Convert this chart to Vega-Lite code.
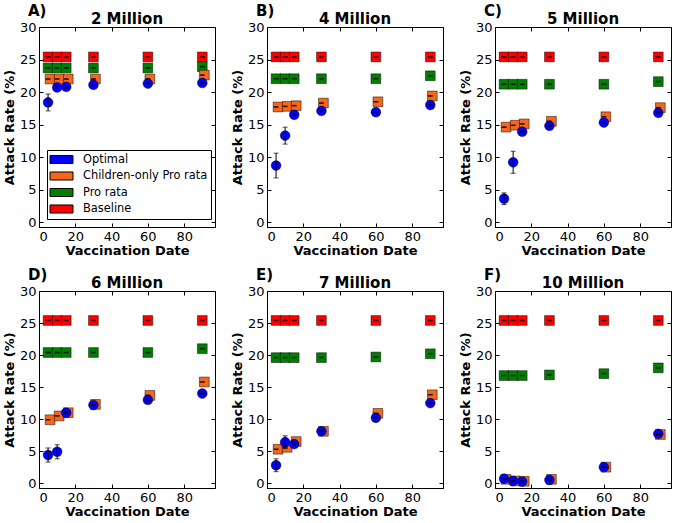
{
  "$schema": "https://vega.github.io/schema/vega-lite/v6.json",
  "padding": {"left": 2, "top": 3, "right": 2, "bottom": 2},
  "config": {
    "font": "DejaVu Sans",
    "view": {"stroke": "black", "strokeWidth": 1},
    "axis": {"grid": false, "domainColor": "black", "domainWidth": 1, "tickColor": "black", "labelColor": "black", "labelFontSize": 13, "labelFont": "DejaVu Sans", "titleFont": "DejaVu Sans", "titleFontSize": 13, "titleFontWeight": "bold", "titleColor": "black"},
    "title": {"font": "DejaVu Sans", "fontSize": 15, "fontWeight": "bold", "color": "black"}
  },
  "data": {"values": [
    {"p":"A","s":"Baseline","x":5,"y":25.4,"e":0.05},{"p":"A","s":"Baseline","x":10,"y":25.4,"e":0.05},{"p":"A","s":"Baseline","x":15,"y":25.4,"e":0.05},{"p":"A","s":"Baseline","x":30,"y":25.4,"e":0.05},{"p":"A","s":"Baseline","x":60,"y":25.4,"e":0.05},{"p":"A","s":"Baseline","x":90,"y":25.4,"e":0.05},
    {"p":"A","s":"Pro rata","x":5,"y":23.7,"e":0.05},{"p":"A","s":"Pro rata","x":10,"y":23.7,"e":0.05},{"p":"A","s":"Pro rata","x":15,"y":23.7,"e":0.05},{"p":"A","s":"Pro rata","x":30,"y":23.7,"e":0.05},{"p":"A","s":"Pro rata","x":60,"y":23.7,"e":0.05},{"p":"A","s":"Pro rata","x":90,"y":23.9,"e":0.05},
    {"p":"A","s":"Children-only Pro rata","x":5,"y":22.0,"e":0.05},{"p":"A","s":"Children-only Pro rata","x":10,"y":22.0,"e":0.05},{"p":"A","s":"Children-only Pro rata","x":15,"y":22.0,"e":0.05},{"p":"A","s":"Children-only Pro rata","x":30,"y":22.0,"e":0.05},{"p":"A","s":"Children-only Pro rata","x":60,"y":22.0,"e":0.05},{"p":"A","s":"Children-only Pro rata","x":90,"y":22.6,"e":0.05},
    {"p":"A","s":"Optimal","x":5,"y":18.4,"e":1.3},{"p":"A","s":"Optimal","x":10,"y":20.7,"e":0.3},{"p":"A","s":"Optimal","x":15,"y":20.8,"e":0.2},{"p":"A","s":"Optimal","x":30,"y":21.1,"e":0.1},{"p":"A","s":"Optimal","x":60,"y":21.3,"e":0.1},{"p":"A","s":"Optimal","x":90,"y":21.4,"e":0.1},
    {"p":"B","s":"Baseline","x":5,"y":25.4,"e":0.05},{"p":"B","s":"Baseline","x":10,"y":25.4,"e":0.05},{"p":"B","s":"Baseline","x":15,"y":25.4,"e":0.05},{"p":"B","s":"Baseline","x":30,"y":25.4,"e":0.05},{"p":"B","s":"Baseline","x":60,"y":25.4,"e":0.05},{"p":"B","s":"Baseline","x":90,"y":25.4,"e":0.05},
    {"p":"B","s":"Pro rata","x":5,"y":22.05,"e":0.05},{"p":"B","s":"Pro rata","x":10,"y":22.05,"e":0.05},{"p":"B","s":"Pro rata","x":15,"y":22.05,"e":0.05},{"p":"B","s":"Pro rata","x":30,"y":22.05,"e":0.05},{"p":"B","s":"Pro rata","x":60,"y":22.05,"e":0.05},{"p":"B","s":"Pro rata","x":90,"y":22.5,"e":0.05},
    {"p":"B","s":"Children-only Pro rata","x":5,"y":17.7,"e":0.05},{"p":"B","s":"Children-only Pro rata","x":10,"y":17.8,"e":0.05},{"p":"B","s":"Children-only Pro rata","x":15,"y":17.9,"e":0.05},{"p":"B","s":"Children-only Pro rata","x":30,"y":18.3,"e":0.05},{"p":"B","s":"Children-only Pro rata","x":60,"y":18.5,"e":0.05},{"p":"B","s":"Children-only Pro rata","x":90,"y":19.4,"e":0.05},
    {"p":"B","s":"Optimal","x":5,"y":8.7,"e":1.9},{"p":"B","s":"Optimal","x":10,"y":13.3,"e":1.3},{"p":"B","s":"Optimal","x":15,"y":16.5,"e":0.1},{"p":"B","s":"Optimal","x":30,"y":17.1,"e":0.1},{"p":"B","s":"Optimal","x":60,"y":16.9,"e":0.1},{"p":"B","s":"Optimal","x":90,"y":18.0,"e":0.1},
    {"p":"C","s":"Baseline","x":5,"y":25.4,"e":0.05},{"p":"C","s":"Baseline","x":10,"y":25.4,"e":0.05},{"p":"C","s":"Baseline","x":15,"y":25.4,"e":0.05},{"p":"C","s":"Baseline","x":30,"y":25.4,"e":0.05},{"p":"C","s":"Baseline","x":60,"y":25.4,"e":0.05},{"p":"C","s":"Baseline","x":90,"y":25.4,"e":0.05},
    {"p":"C","s":"Pro rata","x":5,"y":21.2,"e":0.05},{"p":"C","s":"Pro rata","x":10,"y":21.2,"e":0.05},{"p":"C","s":"Pro rata","x":15,"y":21.2,"e":0.05},{"p":"C","s":"Pro rata","x":30,"y":21.2,"e":0.05},{"p":"C","s":"Pro rata","x":60,"y":21.2,"e":0.05},{"p":"C","s":"Pro rata","x":90,"y":21.6,"e":0.05},
    {"p":"C","s":"Children-only Pro rata","x":5,"y":14.6,"e":0.05},{"p":"C","s":"Children-only Pro rata","x":10,"y":14.9,"e":0.05},{"p":"C","s":"Children-only Pro rata","x":15,"y":15.1,"e":0.05},{"p":"C","s":"Children-only Pro rata","x":30,"y":15.5,"e":0.05},{"p":"C","s":"Children-only Pro rata","x":60,"y":16.2,"e":0.05},{"p":"C","s":"Children-only Pro rata","x":90,"y":17.6,"e":0.05},
    {"p":"C","s":"Optimal","x":5,"y":3.6,"e":0.9},{"p":"C","s":"Optimal","x":10,"y":9.2,"e":1.7},{"p":"C","s":"Optimal","x":15,"y":13.9,"e":0.1},{"p":"C","s":"Optimal","x":30,"y":14.8,"e":0.1},{"p":"C","s":"Optimal","x":60,"y":15.3,"e":0.1},{"p":"C","s":"Optimal","x":90,"y":16.8,"e":0.1},
    {"p":"D","s":"Baseline","x":5,"y":25.4,"e":0.05},{"p":"D","s":"Baseline","x":10,"y":25.4,"e":0.05},{"p":"D","s":"Baseline","x":15,"y":25.4,"e":0.05},{"p":"D","s":"Baseline","x":30,"y":25.4,"e":0.05},{"p":"D","s":"Baseline","x":60,"y":25.4,"e":0.05},{"p":"D","s":"Baseline","x":90,"y":25.4,"e":0.05},
    {"p":"D","s":"Pro rata","x":5,"y":20.4,"e":0.05},{"p":"D","s":"Pro rata","x":10,"y":20.4,"e":0.05},{"p":"D","s":"Pro rata","x":15,"y":20.4,"e":0.05},{"p":"D","s":"Pro rata","x":30,"y":20.4,"e":0.05},{"p":"D","s":"Pro rata","x":60,"y":20.4,"e":0.05},{"p":"D","s":"Pro rata","x":90,"y":21.0,"e":0.05},
    {"p":"D","s":"Children-only Pro rata","x":5,"y":9.9,"e":0.05},{"p":"D","s":"Children-only Pro rata","x":10,"y":10.5,"e":0.05},{"p":"D","s":"Children-only Pro rata","x":15,"y":11.0,"e":0.05},{"p":"D","s":"Children-only Pro rata","x":30,"y":12.3,"e":0.05},{"p":"D","s":"Children-only Pro rata","x":60,"y":13.7,"e":0.05},{"p":"D","s":"Children-only Pro rata","x":90,"y":15.8,"e":0.05},
    {"p":"D","s":"Optimal","x":5,"y":4.4,"e":1.1},{"p":"D","s":"Optimal","x":10,"y":4.9,"e":1.1},{"p":"D","s":"Optimal","x":15,"y":11.0,"e":0.1},{"p":"D","s":"Optimal","x":30,"y":12.2,"e":0.1},{"p":"D","s":"Optimal","x":60,"y":13.0,"e":0.1},{"p":"D","s":"Optimal","x":90,"y":14.0,"e":0.1},
    {"p":"E","s":"Baseline","x":5,"y":25.4,"e":0.05},{"p":"E","s":"Baseline","x":10,"y":25.4,"e":0.05},{"p":"E","s":"Baseline","x":15,"y":25.4,"e":0.05},{"p":"E","s":"Baseline","x":30,"y":25.4,"e":0.05},{"p":"E","s":"Baseline","x":60,"y":25.4,"e":0.05},{"p":"E","s":"Baseline","x":90,"y":25.4,"e":0.05},
    {"p":"E","s":"Pro rata","x":5,"y":19.6,"e":0.05},{"p":"E","s":"Pro rata","x":10,"y":19.6,"e":0.05},{"p":"E","s":"Pro rata","x":15,"y":19.6,"e":0.05},{"p":"E","s":"Pro rata","x":30,"y":19.6,"e":0.05},{"p":"E","s":"Pro rata","x":60,"y":19.7,"e":0.05},{"p":"E","s":"Pro rata","x":90,"y":20.2,"e":0.05},
    {"p":"E","s":"Children-only Pro rata","x":5,"y":5.3,"e":0.05},{"p":"E","s":"Children-only Pro rata","x":10,"y":5.6,"e":0.05},{"p":"E","s":"Children-only Pro rata","x":15,"y":6.5,"e":0.05},{"p":"E","s":"Children-only Pro rata","x":30,"y":8.1,"e":0.05},{"p":"E","s":"Children-only Pro rata","x":60,"y":10.9,"e":0.05},{"p":"E","s":"Children-only Pro rata","x":90,"y":13.8,"e":0.05},
    {"p":"E","s":"Optimal","x":5,"y":2.8,"e":1.0},{"p":"E","s":"Optimal","x":10,"y":6.4,"e":1.0},{"p":"E","s":"Optimal","x":15,"y":6.1,"e":0.1},{"p":"E","s":"Optimal","x":30,"y":8.1,"e":0.1},{"p":"E","s":"Optimal","x":60,"y":10.2,"e":0.1},{"p":"E","s":"Optimal","x":90,"y":12.5,"e":0.1},
    {"p":"F","s":"Baseline","x":5,"y":25.4,"e":0.05},{"p":"F","s":"Baseline","x":10,"y":25.4,"e":0.05},{"p":"F","s":"Baseline","x":15,"y":25.4,"e":0.05},{"p":"F","s":"Baseline","x":30,"y":25.4,"e":0.05},{"p":"F","s":"Baseline","x":60,"y":25.4,"e":0.05},{"p":"F","s":"Baseline","x":90,"y":25.4,"e":0.05},
    {"p":"F","s":"Pro rata","x":5,"y":16.8,"e":0.05},{"p":"F","s":"Pro rata","x":10,"y":16.8,"e":0.05},{"p":"F","s":"Pro rata","x":15,"y":16.8,"e":0.05},{"p":"F","s":"Pro rata","x":30,"y":16.9,"e":0.05},{"p":"F","s":"Pro rata","x":60,"y":17.1,"e":0.05},{"p":"F","s":"Pro rata","x":90,"y":18.0,"e":0.05},
    {"p":"F","s":"Children-only Pro rata","x":5,"y":0.6,"e":0.05},{"p":"F","s":"Children-only Pro rata","x":10,"y":0.35,"e":0.05},{"p":"F","s":"Children-only Pro rata","x":15,"y":0.3,"e":0.05},{"p":"F","s":"Children-only Pro rata","x":30,"y":0.6,"e":0.05},{"p":"F","s":"Children-only Pro rata","x":60,"y":2.5,"e":0.05},{"p":"F","s":"Children-only Pro rata","x":90,"y":7.6,"e":0.05},
    {"p":"F","s":"Optimal","x":5,"y":0.7,"e":0.1},{"p":"F","s":"Optimal","x":10,"y":0.35,"e":0.05},{"p":"F","s":"Optimal","x":15,"y":0.25,"e":0.05},{"p":"F","s":"Optimal","x":30,"y":0.5,"e":0.1},{"p":"F","s":"Optimal","x":60,"y":2.5,"e":0.1},{"p":"F","s":"Optimal","x":90,"y":7.7,"e":0.1}
  ]},
  "columns": 3,
  "spacing": {"row": 9, "column": 14},
  "resolve": {"scale": {"color": "independent"}, "legend": {"color": "independent"}},
  "concat": [
    {
      "title": {"text": "A)", "anchor": "start", "frame": "group", "dx": -11, "offset": -7},
      "resolve": {"scale": {"color": "independent"}, "legend": {"color": "independent"}},
      "vconcat": [{
        "title": {"text": "2 Million", "offset": -6, "frame": "group"},
        "width": 176, "height": 200,
        "transform": [{"filter": {"field": "p", "equal": "A"}}],
        "resolve": {"axis": {"x": "independent", "y": "independent"}},
        "layer": [
          {"transform": [{"filter": {"field": "s", "oneOf": ["Pro rata", "Baseline"]}}],
           "mark": {"type": "square", "size": 95, "filled": true, "opacity": 1, "stroke": "black", "strokeWidth": 0.8, "strokeOpacity": 0.6},
           "encoding": {
             "x": {"field": "x", "type": "quantitative", "scale": {"domain": [0, 97], "nice": false, "zero": false}, "axis": {"orient": "bottom", "title": "Vaccination Date", "values": [0, 20, 40, 60, 80], "tickSize": -4, "labelPadding": 7, "titlePadding": 1}},
             "y": {"field": "y", "type": "quantitative", "scale": {"domain": [-0.75, 30], "nice": false, "zero": false}, "axis": {"orient": "left", "title": "Attack Rate (%)", "values": [0, 5, 10, 15, 20, 25, 30], "tickSize": -4, "labelPadding": 7, "titlePadding": 3}},
             "color": {"field": "s", "type": "nominal", "scale": {"domain": ["Optimal", "Children-only Pro rata", "Pro rata", "Baseline"], "range": ["#0000ff", "#f7661c", "#008000", "#ff0000"]},
               "legend": {"orient": "bottom-left", "offset": 8, "title": null, "symbolType": "M-2,-0.7H2V0.7H-2Z", "symbolSize": 132, "symbolStrokeColor": "black", "symbolStrokeWidth": 1, "symbolOpacity": 1, "labelFontSize": 11.4, "labelFont": "DejaVu Sans", "labelColor": "black", "strokeColor": "black", "fillColor": "white", "padding": 3, "rowPadding": 3.5, "labelOffset": 15, "symbolOffset": 5, "cornerRadius": 0}}
           }},
          {"transform": [{"filter": {"field": "s", "equal": "Children-only Pro rata"}}],
           "mark": {"type": "square", "size": 95, "filled": true, "opacity": 1, "stroke": "black", "strokeWidth": 0.8, "strokeOpacity": 0.6, "xOffset": 2},
           "encoding": {
             "x": {"field": "x", "type": "quantitative", "axis": null},
             "y": {"field": "y", "type": "quantitative", "axis": null},
             "color": {"field": "s", "type": "nominal"}
           }},
          {"transform": [{"filter": {"field": "s", "equal": "Optimal"}}],
           "mark": {"type": "circle", "size": 95, "opacity": 1, "stroke": "black", "strokeWidth": 0.8, "strokeOpacity": 0.6},
           "encoding": {
             "x": {"field": "x", "type": "quantitative", "axis": {"orient": "top", "labels": false, "title": null, "domain": false, "values": [0, 20, 40, 60, 80], "tickSize": -4}},
             "y": {"field": "y", "type": "quantitative", "axis": {"orient": "right", "labels": false, "title": null, "domain": false, "values": [0, 5, 10, 15, 20, 25, 30], "tickSize": -4}},
             "color": {"field": "s", "type": "nominal"}
           }},
          {"mark": {"type": "errorbar", "ticks": {"size": 5, "color": "black"}, "rule": {"color": "black", "strokeWidth": 1}},
           "encoding": {
             "x": {"field": "x", "type": "quantitative", "axis": null},
             "y": {"field": "y", "type": "quantitative", "axis": null},
             "yError": {"field": "e"}
           }}
        ]
      }]
    },
    {
      "title": {"text": "B)", "anchor": "start", "frame": "group", "dx": -11, "offset": -7},
      "resolve": {"scale": {"color": "independent"}, "legend": {"color": "independent"}},
      "vconcat": [{
        "title": {"text": "4 Million", "offset": -6, "frame": "group"},
        "width": 176, "height": 200,
        "transform": [{"filter": {"field": "p", "equal": "B"}}],
        "resolve": {"axis": {"x": "independent", "y": "independent"}},
        "layer": [
          {"transform": [{"filter": {"field": "s", "oneOf": ["Pro rata", "Baseline"]}}],
           "mark": {"type": "square", "size": 95, "filled": true, "opacity": 1, "stroke": "black", "strokeWidth": 0.8, "strokeOpacity": 0.6},
           "encoding": {
             "x": {"field": "x", "type": "quantitative", "scale": {"domain": [0, 97], "nice": false, "zero": false}, "axis": {"orient": "bottom", "title": "Vaccination Date", "values": [0, 20, 40, 60, 80], "tickSize": -4, "labelPadding": 7, "titlePadding": 1}},
             "y": {"field": "y", "type": "quantitative", "scale": {"domain": [-0.75, 30], "nice": false, "zero": false}, "axis": {"orient": "left", "title": "Attack Rate (%)", "values": [0, 5, 10, 15, 20, 25, 30], "tickSize": -4, "labelPadding": 7, "titlePadding": 3}},
             "color": {"field": "s", "type": "nominal", "scale": {"domain": ["Optimal", "Children-only Pro rata", "Pro rata", "Baseline"], "range": ["#0000ff", "#f7661c", "#008000", "#ff0000"]}, "legend": null}
           }},
          {"transform": [{"filter": {"field": "s", "equal": "Children-only Pro rata"}}],
           "mark": {"type": "square", "size": 95, "filled": true, "opacity": 1, "stroke": "black", "strokeWidth": 0.8, "strokeOpacity": 0.6, "xOffset": 2},
           "encoding": {
             "x": {"field": "x", "type": "quantitative", "axis": null},
             "y": {"field": "y", "type": "quantitative", "axis": null},
             "color": {"field": "s", "type": "nominal", "legend": null}
           }},
          {"transform": [{"filter": {"field": "s", "equal": "Optimal"}}],
           "mark": {"type": "circle", "size": 95, "opacity": 1, "stroke": "black", "strokeWidth": 0.8, "strokeOpacity": 0.6},
           "encoding": {
             "x": {"field": "x", "type": "quantitative", "axis": {"orient": "top", "labels": false, "title": null, "domain": false, "values": [0, 20, 40, 60, 80], "tickSize": -4}},
             "y": {"field": "y", "type": "quantitative", "axis": {"orient": "right", "labels": false, "title": null, "domain": false, "values": [0, 5, 10, 15, 20, 25, 30], "tickSize": -4}},
             "color": {"field": "s", "type": "nominal", "legend": null}
           }},
          {"mark": {"type": "errorbar", "ticks": {"size": 5, "color": "black"}, "rule": {"color": "black", "strokeWidth": 1}},
           "encoding": {
             "x": {"field": "x", "type": "quantitative", "axis": null},
             "y": {"field": "y", "type": "quantitative", "axis": null},
             "yError": {"field": "e"}
           }}
        ]
      }]
    },
    {
      "title": {"text": "C)", "anchor": "start", "frame": "group", "dx": -11, "offset": -7},
      "resolve": {"scale": {"color": "independent"}, "legend": {"color": "independent"}},
      "vconcat": [{
        "title": {"text": "5 Million", "offset": -6, "frame": "group"},
        "width": 176, "height": 200,
        "transform": [{"filter": {"field": "p", "equal": "C"}}],
        "resolve": {"axis": {"x": "independent", "y": "independent"}},
        "layer": [
          {"transform": [{"filter": {"field": "s", "oneOf": ["Pro rata", "Baseline"]}}],
           "mark": {"type": "square", "size": 95, "filled": true, "opacity": 1, "stroke": "black", "strokeWidth": 0.8, "strokeOpacity": 0.6},
           "encoding": {
             "x": {"field": "x", "type": "quantitative", "scale": {"domain": [0, 97], "nice": false, "zero": false}, "axis": {"orient": "bottom", "title": "Vaccination Date", "values": [0, 20, 40, 60, 80], "tickSize": -4, "labelPadding": 7, "titlePadding": 1}},
             "y": {"field": "y", "type": "quantitative", "scale": {"domain": [-0.75, 30], "nice": false, "zero": false}, "axis": {"orient": "left", "title": "Attack Rate (%)", "values": [0, 5, 10, 15, 20, 25, 30], "tickSize": -4, "labelPadding": 7, "titlePadding": 3}},
             "color": {"field": "s", "type": "nominal", "scale": {"domain": ["Optimal", "Children-only Pro rata", "Pro rata", "Baseline"], "range": ["#0000ff", "#f7661c", "#008000", "#ff0000"]}, "legend": null}
           }},
          {"transform": [{"filter": {"field": "s", "equal": "Children-only Pro rata"}}],
           "mark": {"type": "square", "size": 95, "filled": true, "opacity": 1, "stroke": "black", "strokeWidth": 0.8, "strokeOpacity": 0.6, "xOffset": 2},
           "encoding": {
             "x": {"field": "x", "type": "quantitative", "axis": null},
             "y": {"field": "y", "type": "quantitative", "axis": null},
             "color": {"field": "s", "type": "nominal", "legend": null}
           }},
          {"transform": [{"filter": {"field": "s", "equal": "Optimal"}}],
           "mark": {"type": "circle", "size": 95, "opacity": 1, "stroke": "black", "strokeWidth": 0.8, "strokeOpacity": 0.6},
           "encoding": {
             "x": {"field": "x", "type": "quantitative", "axis": {"orient": "top", "labels": false, "title": null, "domain": false, "values": [0, 20, 40, 60, 80], "tickSize": -4}},
             "y": {"field": "y", "type": "quantitative", "axis": {"orient": "right", "labels": false, "title": null, "domain": false, "values": [0, 5, 10, 15, 20, 25, 30], "tickSize": -4}},
             "color": {"field": "s", "type": "nominal", "legend": null}
           }},
          {"mark": {"type": "errorbar", "ticks": {"size": 5, "color": "black"}, "rule": {"color": "black", "strokeWidth": 1}},
           "encoding": {
             "x": {"field": "x", "type": "quantitative", "axis": null},
             "y": {"field": "y", "type": "quantitative", "axis": null},
             "yError": {"field": "e"}
           }}
        ]
      }]
    },
    {
      "title": {"text": "D)", "anchor": "start", "frame": "group", "dx": -11, "offset": -7},
      "resolve": {"scale": {"color": "independent"}, "legend": {"color": "independent"}},
      "vconcat": [{
        "title": {"text": "6 Million", "offset": -6, "frame": "group"},
        "width": 176, "height": 197,
        "transform": [{"filter": {"field": "p", "equal": "D"}}],
        "resolve": {"axis": {"x": "independent", "y": "independent"}},
        "layer": [
          {"transform": [{"filter": {"field": "s", "oneOf": ["Pro rata", "Baseline"]}}],
           "mark": {"type": "square", "size": 95, "filled": true, "opacity": 1, "stroke": "black", "strokeWidth": 0.8, "strokeOpacity": 0.6},
           "encoding": {
             "x": {"field": "x", "type": "quantitative", "scale": {"domain": [0, 97], "nice": false, "zero": false}, "axis": {"orient": "bottom", "title": "Vaccination Date", "values": [0, 20, 40, 60, 80], "tickSize": -4, "labelPadding": 7, "titlePadding": 1}},
             "y": {"field": "y", "type": "quantitative", "scale": {"domain": [-0.75, 30], "nice": false, "zero": false}, "axis": {"orient": "left", "title": "Attack Rate (%)", "values": [0, 5, 10, 15, 20, 25, 30], "tickSize": -4, "labelPadding": 7, "titlePadding": 3}},
             "color": {"field": "s", "type": "nominal", "scale": {"domain": ["Optimal", "Children-only Pro rata", "Pro rata", "Baseline"], "range": ["#0000ff", "#f7661c", "#008000", "#ff0000"]}, "legend": null}
           }},
          {"transform": [{"filter": {"field": "s", "equal": "Children-only Pro rata"}}],
           "mark": {"type": "square", "size": 95, "filled": true, "opacity": 1, "stroke": "black", "strokeWidth": 0.8, "strokeOpacity": 0.6, "xOffset": 2},
           "encoding": {
             "x": {"field": "x", "type": "quantitative", "axis": null},
             "y": {"field": "y", "type": "quantitative", "axis": null},
             "color": {"field": "s", "type": "nominal", "legend": null}
           }},
          {"transform": [{"filter": {"field": "s", "equal": "Optimal"}}],
           "mark": {"type": "circle", "size": 95, "opacity": 1, "stroke": "black", "strokeWidth": 0.8, "strokeOpacity": 0.6},
           "encoding": {
             "x": {"field": "x", "type": "quantitative", "axis": {"orient": "top", "labels": false, "title": null, "domain": false, "values": [0, 20, 40, 60, 80], "tickSize": -4}},
             "y": {"field": "y", "type": "quantitative", "axis": {"orient": "right", "labels": false, "title": null, "domain": false, "values": [0, 5, 10, 15, 20, 25, 30], "tickSize": -4}},
             "color": {"field": "s", "type": "nominal", "legend": null}
           }},
          {"mark": {"type": "errorbar", "ticks": {"size": 5, "color": "black"}, "rule": {"color": "black", "strokeWidth": 1}},
           "encoding": {
             "x": {"field": "x", "type": "quantitative", "axis": null},
             "y": {"field": "y", "type": "quantitative", "axis": null},
             "yError": {"field": "e"}
           }}
        ]
      }]
    },
    {
      "title": {"text": "E)", "anchor": "start", "frame": "group", "dx": -11, "offset": -7},
      "resolve": {"scale": {"color": "independent"}, "legend": {"color": "independent"}},
      "vconcat": [{
        "title": {"text": "7 Million", "offset": -6, "frame": "group"},
        "width": 176, "height": 197,
        "transform": [{"filter": {"field": "p", "equal": "E"}}],
        "resolve": {"axis": {"x": "independent", "y": "independent"}},
        "layer": [
          {"transform": [{"filter": {"field": "s", "oneOf": ["Pro rata", "Baseline"]}}],
           "mark": {"type": "square", "size": 95, "filled": true, "opacity": 1, "stroke": "black", "strokeWidth": 0.8, "strokeOpacity": 0.6},
           "encoding": {
             "x": {"field": "x", "type": "quantitative", "scale": {"domain": [0, 97], "nice": false, "zero": false}, "axis": {"orient": "bottom", "title": "Vaccination Date", "values": [0, 20, 40, 60, 80], "tickSize": -4, "labelPadding": 7, "titlePadding": 1}},
             "y": {"field": "y", "type": "quantitative", "scale": {"domain": [-0.75, 30], "nice": false, "zero": false}, "axis": {"orient": "left", "title": "Attack Rate (%)", "values": [0, 5, 10, 15, 20, 25, 30], "tickSize": -4, "labelPadding": 7, "titlePadding": 3}},
             "color": {"field": "s", "type": "nominal", "scale": {"domain": ["Optimal", "Children-only Pro rata", "Pro rata", "Baseline"], "range": ["#0000ff", "#f7661c", "#008000", "#ff0000"]}, "legend": null}
           }},
          {"transform": [{"filter": {"field": "s", "equal": "Children-only Pro rata"}}],
           "mark": {"type": "square", "size": 95, "filled": true, "opacity": 1, "stroke": "black", "strokeWidth": 0.8, "strokeOpacity": 0.6, "xOffset": 2},
           "encoding": {
             "x": {"field": "x", "type": "quantitative", "axis": null},
             "y": {"field": "y", "type": "quantitative", "axis": null},
             "color": {"field": "s", "type": "nominal", "legend": null}
           }},
          {"transform": [{"filter": {"field": "s", "equal": "Optimal"}}],
           "mark": {"type": "circle", "size": 95, "opacity": 1, "stroke": "black", "strokeWidth": 0.8, "strokeOpacity": 0.6},
           "encoding": {
             "x": {"field": "x", "type": "quantitative", "axis": {"orient": "top", "labels": false, "title": null, "domain": false, "values": [0, 20, 40, 60, 80], "tickSize": -4}},
             "y": {"field": "y", "type": "quantitative", "axis": {"orient": "right", "labels": false, "title": null, "domain": false, "values": [0, 5, 10, 15, 20, 25, 30], "tickSize": -4}},
             "color": {"field": "s", "type": "nominal", "legend": null}
           }},
          {"mark": {"type": "errorbar", "ticks": {"size": 5, "color": "black"}, "rule": {"color": "black", "strokeWidth": 1}},
           "encoding": {
             "x": {"field": "x", "type": "quantitative", "axis": null},
             "y": {"field": "y", "type": "quantitative", "axis": null},
             "yError": {"field": "e"}
           }}
        ]
      }]
    },
    {
      "title": {"text": "F)", "anchor": "start", "frame": "group", "dx": -11, "offset": -7},
      "resolve": {"scale": {"color": "independent"}, "legend": {"color": "independent"}},
      "vconcat": [{
        "title": {"text": "10 Million", "offset": -6, "frame": "group"},
        "width": 176, "height": 197,
        "transform": [{"filter": {"field": "p", "equal": "F"}}],
        "resolve": {"axis": {"x": "independent", "y": "independent"}},
        "layer": [
          {"transform": [{"filter": {"field": "s", "oneOf": ["Pro rata", "Baseline"]}}],
           "mark": {"type": "square", "size": 95, "filled": true, "opacity": 1, "stroke": "black", "strokeWidth": 0.8, "strokeOpacity": 0.6},
           "encoding": {
             "x": {"field": "x", "type": "quantitative", "scale": {"domain": [0, 97], "nice": false, "zero": false}, "axis": {"orient": "bottom", "title": "Vaccination Date", "values": [0, 20, 40, 60, 80], "tickSize": -4, "labelPadding": 7, "titlePadding": 1}},
             "y": {"field": "y", "type": "quantitative", "scale": {"domain": [-0.75, 30], "nice": false, "zero": false}, "axis": {"orient": "left", "title": "Attack Rate (%)", "values": [0, 5, 10, 15, 20, 25, 30], "tickSize": -4, "labelPadding": 7, "titlePadding": 3}},
             "color": {"field": "s", "type": "nominal", "scale": {"domain": ["Optimal", "Children-only Pro rata", "Pro rata", "Baseline"], "range": ["#0000ff", "#f7661c", "#008000", "#ff0000"]}, "legend": null}
           }},
          {"transform": [{"filter": {"field": "s", "equal": "Children-only Pro rata"}}],
           "mark": {"type": "square", "size": 95, "filled": true, "opacity": 1, "stroke": "black", "strokeWidth": 0.8, "strokeOpacity": 0.6, "xOffset": 2},
           "encoding": {
             "x": {"field": "x", "type": "quantitative", "axis": null},
             "y": {"field": "y", "type": "quantitative", "axis": null},
             "color": {"field": "s", "type": "nominal", "legend": null}
           }},
          {"transform": [{"filter": {"field": "s", "equal": "Optimal"}}],
           "mark": {"type": "circle", "size": 95, "opacity": 1, "stroke": "black", "strokeWidth": 0.8, "strokeOpacity": 0.6},
           "encoding": {
             "x": {"field": "x", "type": "quantitative", "axis": {"orient": "top", "labels": false, "title": null, "domain": false, "values": [0, 20, 40, 60, 80], "tickSize": -4}},
             "y": {"field": "y", "type": "quantitative", "axis": {"orient": "right", "labels": false, "title": null, "domain": false, "values": [0, 5, 10, 15, 20, 25, 30], "tickSize": -4}},
             "color": {"field": "s", "type": "nominal", "legend": null}
           }},
          {"mark": {"type": "errorbar", "ticks": {"size": 5, "color": "black"}, "rule": {"color": "black", "strokeWidth": 1}},
           "encoding": {
             "x": {"field": "x", "type": "quantitative", "axis": null},
             "y": {"field": "y", "type": "quantitative", "axis": null},
             "yError": {"field": "e"}
           }}
        ]
      }]
    }
  ]
}
